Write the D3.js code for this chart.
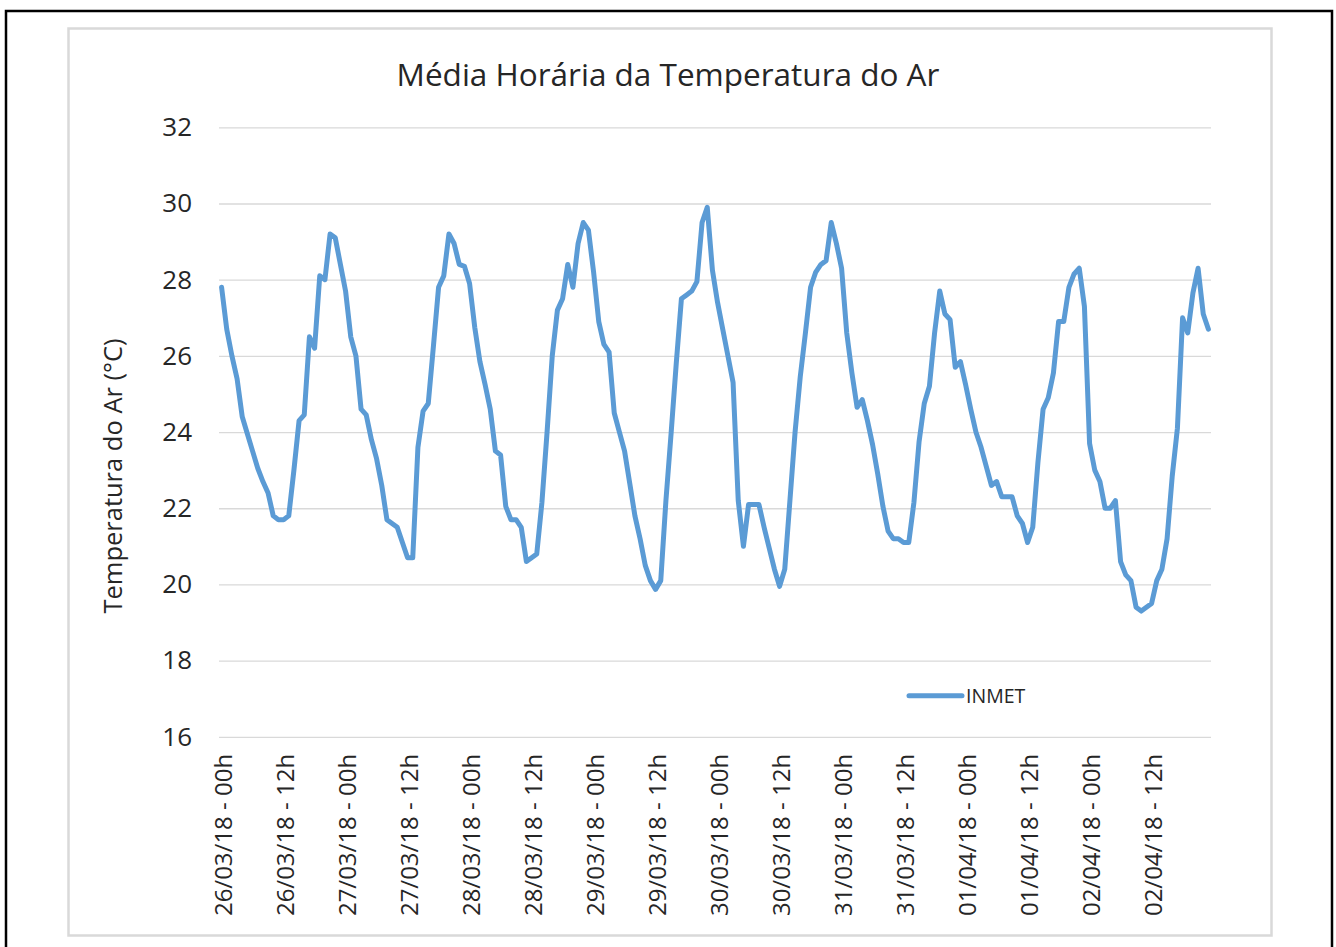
<!DOCTYPE html>
<html>
<head>
<meta charset="utf-8">
<script src="https://cdn.jsdelivr.net/npm/d3@7/dist/d3.min.js"></script>
<style>
  html, body { margin: 0; padding: 0; background: #fff; }
  svg { display: block; }
  text { font-family: "Open Sans", "Noto Sans", sans-serif; fill: #262626; }
</style>
</head>
<body>
<svg id="chart" width="1336" height="947"></svg>
<script>
// Hourly mean air temperature (°C), 26/03/18 00h .. 02/04/18 23h
const temperature = [
  27.8, 26.7, 26.0, 25.4, 24.4, 23.95, 23.5, 23.05, 22.7, 22.4, 21.8, 21.7,
  21.7, 21.8, 23.0, 24.3, 24.45, 26.5, 26.2, 28.1, 28.0, 29.2, 29.1, 28.4,
  27.7, 26.5, 26.0, 24.6, 24.45, 23.8, 23.3, 22.6, 21.7, 21.6, 21.5, 21.1,
  20.7, 20.7, 23.6, 24.55, 24.75, 26.25, 27.8, 28.1, 29.2, 28.95, 28.4, 28.35,
  27.9, 26.75, 25.85, 25.25, 24.6, 23.5, 23.4, 22.05, 21.7, 21.7, 21.5, 20.6,
  20.7, 20.8, 22.15, 24.0, 26.0, 27.2, 27.5, 28.4, 27.8, 28.95, 29.5, 29.3,
  28.2, 26.9, 26.3, 26.1, 24.5, 24.0, 23.5, 22.65, 21.8, 21.2, 20.5, 20.1,
  19.87, 20.1, 22.2, 23.96, 25.8, 27.5, 27.6, 27.7, 27.95, 29.5, 29.9, 28.25,
  27.4, 26.7, 26.0, 25.3, 22.2, 21.0, 22.1, 22.1, 22.1, 21.5, 20.95, 20.4,
  19.95, 20.4, 22.2, 24.0, 25.45, 26.6, 27.8, 28.2, 28.4, 28.5, 29.5, 28.95,
  28.3, 26.6, 25.55, 24.65, 24.85, 24.3, 23.67, 22.9, 22.05, 21.4, 21.2, 21.2,
  21.1, 21.1, 22.15, 23.75, 24.75, 25.2, 26.6, 27.7, 27.1, 26.95, 25.7, 25.85,
  25.25, 24.6, 24.0, 23.6, 23.1, 22.6, 22.7, 22.3, 22.3, 22.3, 21.8, 21.6,
  21.1, 21.5, 23.2, 24.6, 24.9, 25.55, 26.9, 26.9, 27.8, 28.15, 28.3, 27.3,
  23.7, 23.0, 22.7, 22.0, 22.0, 22.2, 20.6, 20.25, 20.1, 19.4, 19.3, 19.4,
  19.5, 20.1, 20.4, 21.2, 22.85, 24.1, 27.0, 26.6, 27.65, 28.3, 27.1, 26.7
];
const days = ["26/03/18", "27/03/18", "28/03/18", "29/03/18", "30/03/18", "31/03/18", "01/04/18", "02/04/18"];
const hoursOfDay = ["00h", "01h", "02h", "03h", "04h", "05h", "06h", "07h", "08h", "09h", "10h", "11h",
                    "12h", "13h", "14h", "15h", "16h", "17h", "18h", "19h", "20h", "21h", "22h", "23h"];
const tickHours = ["00h", "12h"];
const yTicks = [16, 18, 20, 22, 24, 26, 28, 30, 32];
const seriesName = "INMET";
const chartTitle = "Média Horária da Temperatura do Ar";
const yTitle = "Temperatura do Ar (°C)";

// categories built from the day/hour lists
const categories = [];
days.forEach(d => hoursOfDay.forEach(h => categories.push(d + " - " + h)));
const data = categories.map((c, i) => ({ cat: c, hour: hoursOfDay[i % 24], value: temperature[i] }));

const svg = d3.select("#chart");

// outer black frame
svg.append("path")
  .attr("d", "M6,947 L6,11 L1332,11 L1332,947")
  .attr("fill", "none").attr("stroke", "#000").attr("stroke-width", 2.5);

// chart area border
svg.append("rect")
  .attr("x", 68.5).attr("y", 28.5).attr("width", 1203).attr("height", 907)
  .attr("fill", "#fff").attr("stroke", "#d9d9d9").attr("stroke-width", 2.5);

const plot = { left: 219, right: 1211, top: 127.3, bottom: 736.8 };

const x = d3.scaleBand().domain(categories).range([plot.left, plot.right]).paddingInner(0).paddingOuter(0);
const y = d3.scaleLinear().domain([16, 32]).range([plot.bottom, plot.top]);
const cx = c => x(c) + x.bandwidth() / 2;

// gridlines + y labels
const yAxis = d3.axisLeft(y).tickValues(yTicks).tickSize(-(plot.right - plot.left)).tickPadding(27).tickFormat(d3.format("d"));
const gy = svg.append("g").attr("transform", `translate(${plot.left},0)`).call(yAxis);
gy.select(".domain").remove();
gy.selectAll(".tick line").attr("stroke", "#d9d9d9").attr("stroke-width", 1.3);
gy.selectAll(".tick text").attr("font-size", 26).attr("fill", "#262626")
  .attr("font-family", '"Open Sans", sans-serif');

// x labels (every 12 hours)
const tickCats = categories.filter((c, i) => tickHours.includes(hoursOfDay[i % 24]));
const xAxis = d3.axisBottom(x).tickValues(tickCats).tickSize(0).tickFormat(d => d);
const gx = svg.append("g").attr("transform", `translate(0,${plot.bottom})`).call(xAxis);
gx.select(".domain").remove();
gx.selectAll(".tick text")
  .attr("font-size", 24).attr("fill", "#262626")
  .attr("font-family", '"Open Sans", sans-serif')
  .attr("text-anchor", "end")
  .attr("transform", "translate(2,17) rotate(-90)")
  .attr("x", 0).attr("y", 0).attr("dy", "0.36em");

// line
const line = d3.line().x(d => cx(d.cat)).y(d => y(d.value));
svg.append("path").datum(data)
  .attr("d", line)
  .attr("fill", "none")
  .attr("stroke", "#5b9bd5")
  .attr("stroke-width", 5)
  .attr("stroke-linejoin", "round")
  .attr("stroke-linecap", "round");

// title
svg.append("text")
  .attr("x", 668).attr("y", 86)
  .attr("text-anchor", "middle")
  .attr("font-size", 31.5)
  .text(chartTitle);

// y axis title
svg.append("text")
  .attr("transform", "translate(122,476) rotate(-90)")
  .attr("text-anchor", "middle")
  .attr("font-size", 25.5)
  .text(yTitle);

// legend
svg.append("line")
  .attr("x1", 909).attr("x2", 962).attr("y1", 695.7).attr("y2", 695.7)
  .attr("stroke", "#5b9bd5").attr("stroke-width", 5).attr("stroke-linecap", "round");
svg.append("text")
  .attr("x", 966).attr("y", 703)
  .attr("font-size", 19.5)
  .text(seriesName);
</script>
</body>
</html>
